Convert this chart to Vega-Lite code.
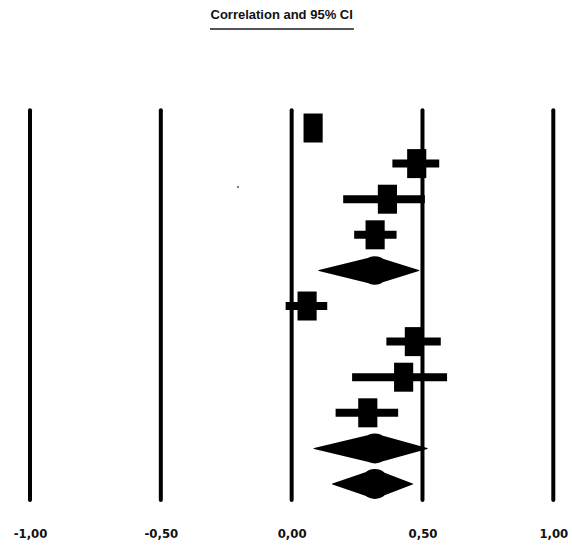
{
  "$schema": "https://vega.github.io/schema/vega-lite/v6.json",
  "autosize": "none",
  "width": 523.3,
  "height": 391,
  "padding": {"left": 30, "top": 109, "right": 18.7, "bottom": 50},
  "background": "white",
  "title": {
    "text": "Correlation and 95% CI",
    "frame": "group",
    "anchor": "middle",
    "dx": -10,
    "offset": -4,
    "baseline": "alphabetic",
    "fontSize": 13,
    "fontWeight": "bold",
    "font": "Liberation Sans",
    "color": "#111"
  },
  "datasets": {
    "refs": [{"v": -1}, {"v": -0.5}, {"v": 0}, {"v": 0.5}, {"v": 1}],
    "studies": [
      {"row": 1, "est": 0.082, "lo": 0.07, "hi": 0.1},
      {"row": 2, "est": 0.478, "lo": 0.385, "hi": 0.564},
      {"row": 3, "est": 0.366, "lo": 0.197, "hi": 0.509},
      {"row": 4, "est": 0.319, "lo": 0.239, "hi": 0.401},
      {"row": 6, "est": 0.059, "lo": -0.023, "hi": 0.136},
      {"row": 7, "est": 0.469, "lo": 0.362, "hi": 0.57},
      {"row": 8, "est": 0.428, "lo": 0.231, "hi": 0.594},
      {"row": 9, "est": 0.291, "lo": 0.168, "hi": 0.407}
    ],
    "pooled": [
      {"row": 5, "r": 0.104, "w": 0},
      {"row": 5, "r": 0.318, "w": 0.95},
      {"row": 5, "r": 0.486, "w": 0},
      {"row": 10, "r": 0.086, "w": 0},
      {"row": 10, "r": 0.318, "w": 1},
      {"row": 10, "r": 0.518, "w": 0},
      {"row": 11, "r": 0.156, "w": 0},
      {"row": 11, "r": 0.318, "w": 1},
      {"row": 11, "r": 0.462, "w": 0}
    ],
    "speck": [{"row": 2.657, "r": -0.205}]
  },
  "layer": [
    {
      "data": {"name": "refs"},
      "mark": {"type": "rule", "color": "black", "strokeWidth": 4, "strokeCap": "round"},
      "encoding": {
        "x": {"field": "v", "type": "quantitative", "title": null, "scale": {"domain": [-1, 1], "nice": false, "zero": false}},
        "y": {"datum": 0.5, "type": "quantitative", "scale": {"domain": [0.466, 11.449], "reverse": true, "nice": false, "zero": false}},
        "y2": {"datum": 11.449}
      }
    },
    {
      "data": {"name": "studies"},
      "mark": {"type": "rule", "color": "black", "strokeWidth": 8},
      "encoding": {
        "x": {"field": "lo", "type": "quantitative", "title": null},
        "x2": {"field": "hi"},
        "y": {"field": "row", "type": "quantitative", "title": null}
      }
    },
    {
      "data": {"name": "studies"},
      "mark": {"type": "point", "filled": true, "opacity": 1, "color": "black", "shape": "M-0.66,-1H0.66V1H-0.66Z", "size": 841},
      "encoding": {
        "x": {"field": "est", "type": "quantitative", "title": null},
        "y": {"field": "row", "type": "quantitative", "title": null}
      }
    },
    {
      "data": {"name": "pooled"},
      "mark": {"type": "trail", "color": "black"},
      "encoding": {
        "x": {"field": "r", "type": "quantitative", "title": null},
        "y": {"field": "row", "type": "quantitative", "title": null},
        "detail": {"field": "row", "type": "nominal"},
        "size": {"field": "w", "type": "quantitative", "legend": null, "scale": {"domain": [0, 1], "range": [0, 30]}}
      }
    },
    {
      "data": {"name": "speck"},
      "mark": {"type": "circle", "color": "#888", "size": 6, "opacity": 1},
      "encoding": {
        "x": {"field": "r", "type": "quantitative", "title": null},
        "y": {"field": "row", "type": "quantitative", "title": null}
      }
    },
    {
      "data": {"values": [{}]},
      "mark": {"type": "rule", "color": "#555", "strokeWidth": 2},
      "encoding": {
        "x": {"datum": -0.312, "type": "quantitative"},
        "x2": {"datum": 0.238},
        "y": {"datum": -1.781, "type": "quantitative"}
      }
    }
  ],
  "config": {
    "view": {"stroke": null},
    "locale": {
      "number": {"decimal": ",", "thousands": ".", "grouping": [3], "currency": ["", " €"], "minus": "-"}
    },
    "axisY": {"disable": true},
    "axisX": {
      "tickCount": 5,
      "format": ".2f",
      "domain": false,
      "ticks": false,
      "tickSize": 0,
      "grid": false,
      "labelPadding": 33,
      "labelBaseline": "middle",
      "labelFont": "Liberation Sans Narrow, DejaVu Sans Condensed, sans-serif",
      "labelFontWeight": "bold",
      "labelFontSize": 13,
      "labelColor": "#111",
      "labelFlush": false
    }
  }
}
